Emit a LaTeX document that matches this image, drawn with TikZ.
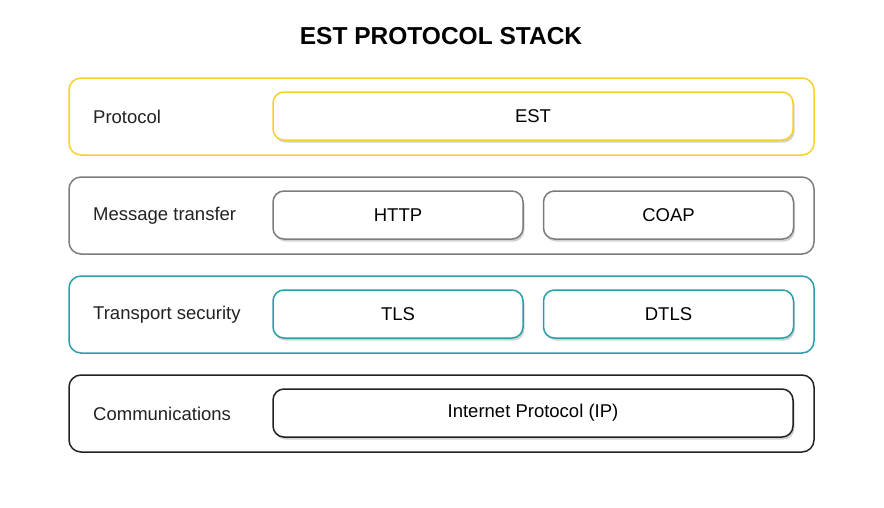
\documentclass[tikz,border=0pt]{standalone}
\usepackage{fontspec}
\setmainfont{Liberation Sans}
\usepackage{tikz}
\usetikzlibrary{positioning, shapes.geometric, shadows, calc}

\definecolor{estyellow}{HTML}{F8D02A}
\definecolor{estgray}{HTML}{7C7C7C}
\definecolor{estteal}{HTML}{2A9FA8}
\definecolor{estblack}{HTML}{222222}

\begin{document}
\begin{tikzpicture}[
    x=1pt, y=-1pt,
    layer/.style={draw=#1, line width=1.5pt, rounded corners=12pt, fill=white, minimum width=745pt, minimum height=77pt},
    proto/.style={draw=#1, line width=1.5pt, rounded corners=11pt, fill=white, minimum height=48pt, font=\fontsize{18.5}{22}\selectfont,
        drop shadow={shadow xshift=1.5pt, shadow yshift=-2.5pt, opacity=0.18, fill=black}},
    layerlabel/.style={anchor=west, inner sep=0pt, font=\fontsize{18.5}{22}\selectfont, text=estblack},
    title/.style={font=\fontsize{24.5}{29}\selectfont\bfseries, text=black}
]
\useasboundingbox (0,0) rectangle (884,507);

% Titel
\node[title] (t) at (441,36) {EST PROTOCOL STACK};

% Schichten
\node[layer=estyellow] (L1) at (441.5,116.5) {};
\node[layer=estgray] (L2) at (441.5,215.5) {};
\node[layer=estteal] (L3) at (441.5,314.5) {};
\node[layer=estblack] (L4) at (441.5,413.5) {};

\node[layerlabel] (l1) at (93,117) {Protocol};
\node[layerlabel] (l2) at (93,216) {Message transfer};
\node[layerlabel] (l3) at (93,315) {Transport security};
\node[layerlabel] (l4) at (93,414) {Communications};

% Protokolle
\node[proto=estyellow, minimum width=520pt] (est) at (533,116) {EST};
\node[proto=estgray, minimum width=250pt] (http) at (398,215) {HTTP};
\node[proto=estgray, minimum width=250pt, right=19pt of http] (coap) {COAP};
\node[proto=estteal, minimum width=250pt] (tls) at (398,314) {TLS};
\node[proto=estteal, minimum width=250pt, right=19pt of tls] (dtls) {DTLS};
\node[proto=estblack, minimum width=520pt] (ip) at (533,413) {Internet Protocol (IP)};

\end{tikzpicture}
\end{document}
